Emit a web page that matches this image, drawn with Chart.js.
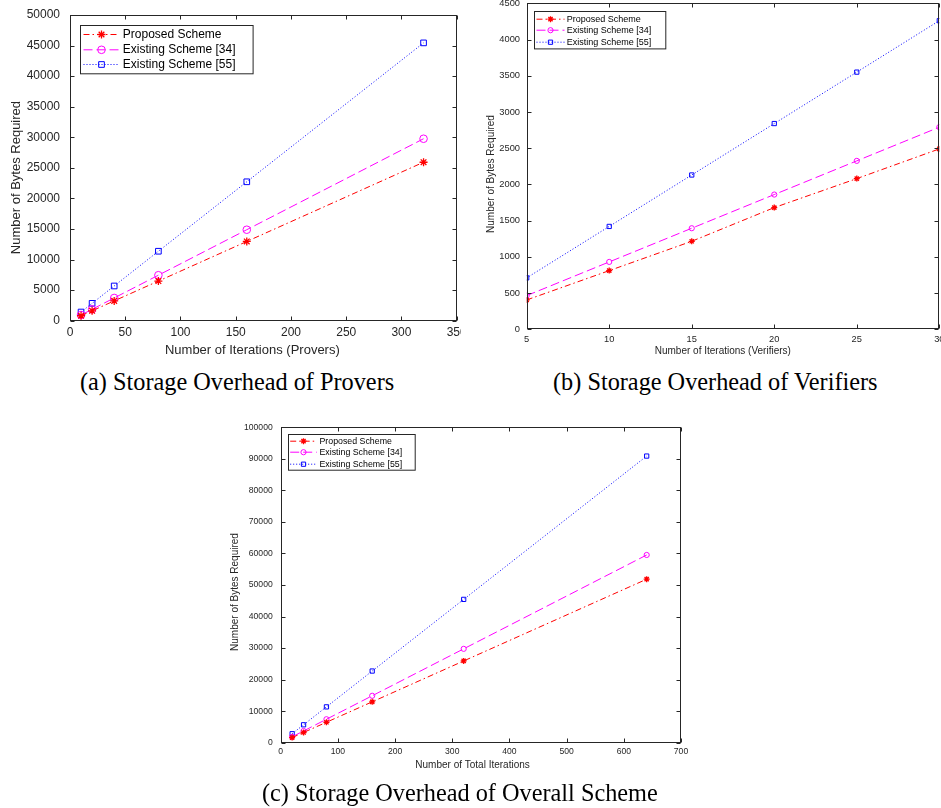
<!DOCTYPE html>
<html>
<head>
<meta charset="utf-8">
<script src="https://cdn.jsdelivr.net/npm/chart.js@4.4.1/dist/chart.umd.min.js"></script>
<style>
  html, body { margin: 0; padding: 0; background: #fff; }
  #page { position: relative; width: 941px; height: 808px; overflow: hidden; background: #fff; }
  .box { position: absolute; overflow: hidden; }
  .box canvas { position: absolute; left: 0; top: 0; }
  .cap { position: absolute; white-space: nowrap; color: #000;
         font-family: "Liberation Serif", "Times New Roman", serif; }
</style>
</head>
<body>
<div id="page">
  <div class="box" style="left:0;top:0;width:461px;height:365px"><canvas id="chartA" width="480" height="365"></canvas></div>
  <div class="box" style="left:470px;top:-4px;width:471px;height:369px"><canvas id="chartB" width="490" height="369"></canvas></div>
  <div class="box" style="left:220px;top:415px;width:480px;height:365px"><canvas id="chartC" width="480" height="365"></canvas></div>
  <div class="cap" id="capA">(a) Storage Overhead of Provers</div>
  <div class="cap" id="capB">(b) Storage Overhead of Verifiers</div>
  <div class="cap" id="capC">(c) Storage Overhead of Overall Scheme</div>
</div>
<script>
// series names
const seriesLabels = ['Proposed Scheme', 'Existing Scheme [34]', 'Existing Scheme [55]'];

// (a) provers
const xProvers = [10, 20, 40, 80, 160, 320];
const proversProposed = [810, 1620, 3240, 6480, 12960, 25920];
const proversExisting34 = [930, 1860, 3720, 7440, 14880, 29760];
const proversExisting55 = [1420, 2840, 5680, 11360, 22720, 45440];

// (b) verifiers
const xVerifiers = [5, 10, 15, 20, 25, 30];
const verifiersProposed = [405, 810, 1215, 1680, 2080, 2490];
const verifiersExisting34 = [465, 930, 1395, 1860, 2325, 2790];
const verifiersExisting55 = [710, 1420, 2130, 2840, 3550, 4260];

// (c) overall
const xTotal = [20, 40, 80, 160, 320, 640];
const totalProposed = [1620, 3240, 6480, 12960, 25920, 51840];
const totalExisting34 = [1860, 3720, 7440, 14880, 29760, 59520];
const totalExisting55 = [2840, 5680, 11360, 22720, 45440, 90880];

const AXIS = '#262626';
const FONT = '"Liberation Sans", Arial, Helvetica, sans-serif';

const looks = [
  { color: '#ff0000', dash: [6, 3, 1.5, 3], point: 'star', fill: '#ff0000', bw: 1.3 },
  { color: '#ff00ff', dash: [9, 4], point: 'circle', fill: 'rgba(0,0,0,0)', bw: 1 },
  { color: '#0000ff', dash: [1, 2], point: 'rect', fill: 'rgba(0,0,0,0)', bw: 1 }
];

function series(xs, ys, i, radii) {
  const s = looks[i];
  return {
    label: seriesLabels[i],
    data: xs.map((x, k) => ({ x: x, y: ys[k] })),
    borderColor: s.color,
    borderWidth: 1,
    borderDash: s.dash,
    pointStyle: s.point,
    pointRadius: radii[i],
    pointBorderColor: s.color,
    pointBackgroundColor: s.fill,
    pointBorderWidth: s.bw,
    tension: 0,
    fill: false
  };
}

function marker(ctx, style, x, y, r) {
  ctx.beginPath();
  if (style === 'circle') {
    ctx.arc(x, y, r, 0, Math.PI * 2);
  } else if (style === 'rect') {
    const s = r * Math.SQRT1_2;
    ctx.rect(x - s, y - s, 2 * s, 2 * s);
  } else {
    const d = r * Math.SQRT1_2;
    ctx.moveTo(x - r, y); ctx.lineTo(x + r, y);
    ctx.moveTo(x, y - r); ctx.lineTo(x, y + r);
    ctx.moveTo(x - d, y - d); ctx.lineTo(x + d, y + d);
    ctx.moveTo(x - d, y + d); ctx.lineTo(x + d, y - d);
  }
  ctx.fill();
  ctx.stroke();
}

// box, inward ticks, axis titles and legend, matlab style
const frame = {
  id: 'frame',
  afterDraw(chart, args, o) {
    const { ctx, chartArea: a, scales } = chart;
    const L = Math.round(a.left) + 0.5, R = Math.round(a.right) - 0.5;
    const T = Math.round(a.top) + 0.5, B = Math.round(a.bottom) - 0.5;
    ctx.save();
    ctx.strokeStyle = AXIS;
    ctx.lineWidth = 1;
    ctx.setLineDash([]);
    ctx.strokeRect(L, T, R - L, B - T);
    ctx.beginPath();
    scales.x.ticks.forEach(t => {
      const p = Math.round(scales.x.getPixelForValue(t.value)) + 0.5;
      ctx.moveTo(p, B); ctx.lineTo(p, B - o.tick);
      ctx.moveTo(p, T); ctx.lineTo(p, T + o.tick);
    });
    scales.y.ticks.forEach(t => {
      const p = Math.round(scales.y.getPixelForValue(t.value)) + 0.5;
      ctx.moveTo(L, p); ctx.lineTo(L + o.tick, p);
      ctx.moveTo(R, p); ctx.lineTo(R - o.tick, p);
    });
    ctx.stroke();

    // axis titles
    ctx.fillStyle = AXIS;
    ctx.textAlign = 'center';
    ctx.textBaseline = 'middle';
    ctx.font = o.titleSize + 'px ' + FONT;
    ctx.fillText(o.xTitle, (a.left + a.right) / 2 + o.xdx, a.bottom + o.xdy);
    ctx.translate(a.left + o.ydx, (a.top + a.bottom) / 2 + o.ydy);
    ctx.rotate(-Math.PI / 2);
    ctx.fillText(o.yTitle, 0, 0);
    ctx.setTransform(1, 0, 0, 1, 0, 0);

    // legend
    const g = o.legend;
    const bx = Math.round(a.left + g.dx) + 0.5, by = Math.round(a.top + g.dy) + 0.5;
    ctx.fillStyle = '#fff';
    ctx.fillRect(bx, by, g.w, g.h);
    ctx.strokeStyle = AXIS;
    ctx.strokeRect(bx, by, g.w, g.h);
    ctx.font = g.size + 'px ' + FONT;
    ctx.textAlign = 'left';
    chart.data.datasets.forEach((ds, i) => {
      const y = by + g.rows[i];
      ctx.strokeStyle = ds.borderColor;
      ctx.lineWidth = 1;
      ctx.setLineDash(ds.borderDash);
      ctx.beginPath();
      ctx.moveTo(bx + g.x0, y); ctx.lineTo(bx + g.x1, y);
      ctx.stroke();
      ctx.setLineDash([]);
      ctx.lineWidth = ds.pointBorderWidth;
      ctx.fillStyle = ds.pointBackgroundColor;
      marker(ctx, ds.pointStyle, bx + g.mx, y, ds.pointRadius);
      ctx.fillStyle = '#000';
      ctx.fillText(ds.label, bx + g.tx, y);
    });
    ctx.restore();
  }
};

function makeChart(id, c) {
  return new Chart(document.getElementById(id), {
    type: 'line',
    data: { datasets: c.datasets },
    options: {
      responsive: false,
      animation: false,
      devicePixelRatio: 1,
      layout: { padding: { left: 0, top: c.top, right: c.right, bottom: 0 } },
      plugins: { legend: { display: false }, tooltip: { enabled: false }, frame: c.frame },
      scales: {
        x: {
          type: 'linear', min: c.x.min, max: c.x.max,
          grid: { display: false, drawTicks: false }, border: { display: false },
          ticks: { stepSize: c.x.step, padding: c.x.pad, color: AXIS, maxRotation: 0, autoSkip: false,
                   font: { family: FONT, size: c.tickSize }, callback: v => String(v) },
          afterFit(s) { s.height = c.x.h; }
        },
        y: {
          type: 'linear', min: c.y.min, max: c.y.max,
          // label gap comes from an invisible tick mark so it does not push the plot top down
          grid: { display: true, drawOnChartArea: false, drawTicks: true, tickLength: c.y.pad, color: 'rgba(0,0,0,0)' },
          border: { display: false },
          ticks: { stepSize: c.y.step, padding: 0, color: AXIS, autoSkip: false,
                   font: { family: FONT, size: c.tickSize }, callback: v => String(v) },
          afterFit(s) { s.width = c.y.w; }
        }
      }
    },
    plugins: [frame]
  });
}

const radiiA = [4.0, 3.8, 4.0];
const radiiBC = [3.0, 2.6, 3.0];

makeChart('chartA', {
  datasets: [
    series(xProvers, proversProposed, 0, radiiA),
    series(xProvers, proversExisting34, 1, radiiA),
    series(xProvers, proversExisting55, 2, radiiA)
  ],
  top: 15, right: 23.3, tickSize: 12,
  x: { min: 0, max: 350, step: 50, pad: 4.8, h: 44.3 },
  y: { min: 0, max: 50000, step: 5000, pad: 10, w: 70 },
  frame: {
    tick: 4, titleSize: 13,
    xTitle: 'Number of Iterations (Provers)', xdx: -11, xdy: 29.3,
    yTitle: 'Number of Bytes Required', ydx: -54, ydy: 9.7,
    legend: { dx: 9.7, dy: 9.7, w: 172.6, h: 48.3, rows: [9, 24.3, 39], x0: 3, x1: 38.6, mx: 21, tx: 42.3, size: 12 }
  }
});

makeChart('chartB', {
  datasets: [
    series(xVerifiers, verifiersProposed, 0, radiiBC),
    series(xVerifiers, verifiersExisting34, 1, radiiBC),
    series(xVerifiers, verifiersExisting55, 2, radiiBC)
  ],
  top: 7.3, right: 20.7, tickSize: 9.3,
  x: { min: 5, max: 30, step: 5, pad: 4.1, h: 35.7 },
  y: { min: 0, max: 4500, step: 500, pad: 6.7, w: 56.7 },
  frame: {
    tick: 4, titleSize: 10,
    xTitle: 'Number of Iterations (Verifiers)', xdx: -10.2, xdy: 22.4,
    yTitle: 'Number of Bytes Required', ydx: -35, ydy: 7.7,
    legend: { dx: 7, dy: 8, w: 131.3, h: 37.4, rows: [7.7, 18.7, 30.7], x0: 2, x1: 30, mx: 16, tx: 32.3, size: 9 }
  }
});

makeChart('chartC', {
  datasets: [
    series(xTotal, totalProposed, 0, radiiBC),
    series(xTotal, totalExisting34, 1, radiiBC),
    series(xTotal, totalExisting55, 2, radiiBC)
  ],
  top: 12.3, right: 19, tickSize: 8.6,
  x: { min: 0, max: 700, step: 100, pad: 3.8, h: 37.3 },
  y: { min: 0, max: 100000, step: 10000, pad: 8, w: 60.7 },
  frame: {
    tick: 4, titleSize: 10,
    xTitle: 'Number of Total Iterations', xdx: -8.3, xdy: 22.3,
    yTitle: 'Number of Bytes Required', ydx: -45.7, ydy: 7,
    legend: { dx: 7.6, dy: 7, w: 126.7, h: 35.7, rows: [6.7, 17.7, 29.7], x0: 1.7, x1: 28.4, mx: 15, tx: 31, size: 8.8 }
  }
});

// captions: one serif size for all three, fitted to the width of (c)
(function () {
  const m = document.createElement('canvas').getContext('2d');
  m.font = '20px "Liberation Serif", "Times New Roman", serif';
  const size = 20 * 396 / m.measureText(document.getElementById('capC').textContent).width;
  const place = [['capA', 80, 382], ['capB', 553, 382], ['capC', 262, 793]];
  place.forEach(([id, left, mid]) => {
    const el = document.getElementById(id);
    el.style.fontSize = size + 'px';
    el.style.lineHeight = Math.round(size * 1.2) + 'px';
    el.style.left = left + 'px';
    el.style.top = (mid - size * 0.6) + 'px';
  });
})();
</script>
</body>
</html>
